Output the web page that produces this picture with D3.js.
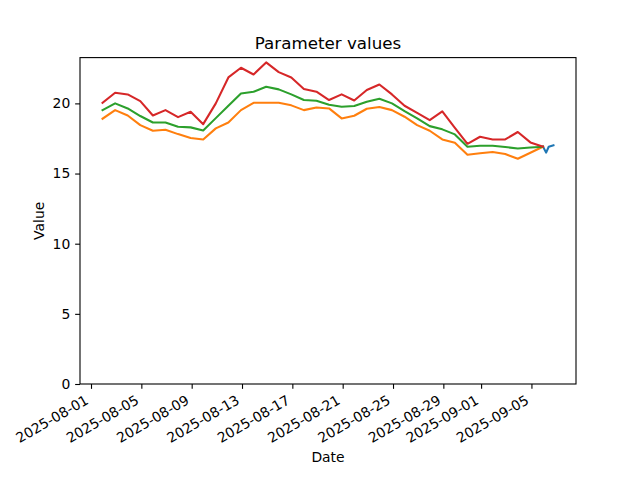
<!DOCTYPE html>
<html>
<head>
<meta charset="utf-8">
<script src="https://cdn.jsdelivr.net/npm/d3@7"></script>
<style>
  body { margin: 0; background: #fff; }
  text { font-family: "DejaVu Sans", sans-serif; fill: #000; }
</style>
</head>
<body>
<svg id="chart" width="640" height="480"></svg>
<script>
// daily series, first point 2025-08-01 22:00, one per day
const dailyStart = "2025-08-01T22:00:00";
const redValues = [20.04, 20.76, 20.64, 20.16, 19.14, 19.52, 19.02, 19.40, 18.52, 20.0,
  21.85, 22.54, 22.06, 22.92, 22.23, 21.85, 21.02, 20.83, 20.24, 20.64,
  20.21, 20.95, 21.35, 20.64, 19.83, 19.33, 18.81, 19.43, 18.26, 17.12,
  17.62, 17.43, 17.43, 17.96, 17.22, 16.91];
const greenValues = [19.52, 20.0, 19.64, 19.10, 18.64, 18.64, 18.33, 18.29, 18.07, 18.95,
  19.83, 20.71, 20.83, 21.19, 21.0, 20.64, 20.24, 20.19, 19.9, 19.76,
  19.81, 20.12, 20.33, 20.0, 19.45, 18.93, 18.38, 18.15, 17.79, 16.91,
  16.98, 16.98, 16.89, 16.79, 16.86, 16.91];
const orangeValues = [18.91, 19.52, 19.14, 18.45, 18.05, 18.12, 17.81, 17.53, 17.43, 18.22,
  18.64, 19.52, 20.04, 20.04, 20.04, 19.86, 19.52, 19.71, 19.64, 18.93,
  19.12, 19.62, 19.74, 19.52, 19.05, 18.45, 18.05, 17.43, 17.19, 16.34,
  16.44, 16.53, 16.39, 16.05, 16.48, 16.91];
// short blue series (hourly readings)
const blueTimes = ["2025-09-05T22:00:00", "2025-09-06T04:00:00", "2025-09-06T09:00:00", "2025-09-06T18:00:00"];
const blueValues = [16.93, 16.49, 16.91, 17.01];

const xTickDates = ["2025-08-01", "2025-08-05", "2025-08-09", "2025-08-13", "2025-08-17",
  "2025-08-21", "2025-08-25", "2025-08-29", "2025-09-01", "2025-09-05"];
const yTicks = [0, 5, 10, 15, 20];

const W = 640, H = 480;
const margin = { left: 80, right: 64, top: 57.6, bottom: 96 };
const pw = W - margin.left - margin.right;
const ph = H - margin.top - margin.bottom;

const DAY = 86400000;
const t0 = new Date(dailyStart);
const toDaily = vals => vals.map((v, i) => ({ t: new Date(+t0 + i * DAY), v }));
const series = [
  { color: "#1f77b4", pts: blueTimes.map((s, i) => ({ t: new Date(s), v: blueValues[i] })) },
  { color: "#ff7f0e", pts: toDaily(orangeValues) },
  { color: "#2ca02c", pts: toDaily(greenValues) },
  { color: "#d62728", pts: toDaily(redValues) }
];

const all = series.flatMap(s => s.pts);
const [tmin, tmax] = d3.extent(all, d => +d.t);
const [vmin, vmax] = d3.extent(all, d => d.v);
const tpad = (tmax - tmin) * 0.05;

const x = d3.scaleTime()
  .domain([new Date(tmin - tpad), new Date(tmax + tpad)])
  .range([margin.left, margin.left + pw]);
const y = d3.scaleLinear()
  .domain([0, vmax + (vmax - vmin) * 0.05])
  .range([margin.top + ph, margin.top]);

const svg = d3.select("#chart");
const tickLen = 4.86;

const line = d3.line().x(d => x(d.t)).y(d => y(d.v));
svg.append("g").selectAll("path").data(series).join("path")
  .attr("d", s => line(s.pts))
  .attr("fill", "none")
  .attr("stroke", s => s.color)
  .attr("stroke-width", 2.08)
  .attr("stroke-linejoin", "round")
  .attr("stroke-linecap", "square");

// spines
svg.append("rect")
  .attr("x", margin.left).attr("y", margin.top)
  .attr("width", pw).attr("height", ph)
  .attr("fill", "none").attr("stroke", "#000").attr("stroke-width", 1.1);

// x axis
const xAxis = d3.axisBottom(x)
  .tickValues(xTickDates.map(s => new Date(s + "T00:00:00")))
  .tickFormat(d3.timeFormat("%Y-%m-%d"))
  .tickSize(tickLen).tickPadding(0);
const gx = svg.append("g")
  .attr("transform", `translate(0,${margin.top + ph})`)
  .call(xAxis);
gx.select(".domain").remove();
gx.selectAll(".tick line").attr("stroke", "#000").attr("stroke-width", 1.1);
gx.selectAll(".tick text")
  .attr("font-size", 13.9)
  .attr("font-family", "DejaVu Sans")
  .attr("fill", "#000")
  .attr("text-anchor", "end")
  .attr("y", 0).attr("dy", 0)
  .attr("transform", "translate(-2,19) rotate(-30)");

// y axis
const yAxis = d3.axisLeft(y).tickValues(yTicks).tickSize(tickLen).tickPadding(4.86);
const gy = svg.append("g")
  .attr("transform", `translate(${margin.left},0)`)
  .call(yAxis);
gy.select(".domain").remove();
gy.selectAll(".tick line").attr("stroke", "#000").attr("stroke-width", 1.1);
gy.selectAll(".tick text")
  .attr("font-size", 13.9)
  .attr("font-family", "DejaVu Sans")
  .attr("fill", "#000");

// labels
svg.append("text")
  .attr("x", margin.left + pw / 2).attr("y", 49)
  .attr("text-anchor", "middle").attr("font-size", 16.7)
  .text("Parameter values");
svg.append("text")
  .attr("x", margin.left + pw / 2).attr("y", 462)
  .attr("text-anchor", "middle").attr("font-size", 13.9)
  .text("Date");
svg.append("text")
  .attr("transform", `translate(44,${margin.top + ph / 2}) rotate(-90)`)
  .attr("text-anchor", "middle").attr("font-size", 13.9)
  .text("Value");
</script>
</body>
</html>
